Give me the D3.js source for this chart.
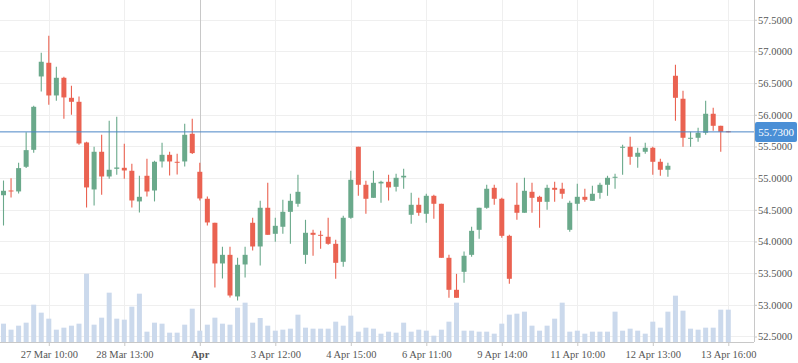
<!DOCTYPE html>
<html>
<head>
<meta charset="utf-8">
<script src="https://cdn.jsdelivr.net/npm/d3@7"></script>
<style>
  body { margin: 0; background: #fff; }
  svg { display: block; }
  svg text { font-family: "Liberation Serif", "DejaVu Serif", serif !important; }
</style>
</head>
<body>
<script>
// hourly bars
const open = [54.73,54.805,54.79,55.179,55.447,56.605,56.821,56.305,56.584,56.268,
  56.205,55.563,54.821,55.416,55.026,55.147,55.163,55.116,54.632,55.037,
  54.805,55.263,55.368,55.258,55.263,55.70,55.10,54.674,54.295,53.653,
  53.789,53.132,53.637,54.295,53.921,54.532,54.121,54.232,54.468,54.595,
  53.789,54.137,54.105,54.074,53.963,53.679,54.374,55.495,54.895,54.689,
  54.916,54.942,54.863,55.011,54.421,54.579,54.437,54.721,54.595,53.742,
  53.237,53.521,53.789,54.184,54.532,54.847,54.674,54.089,54.579,54.453,
  54.784,54.705,54.626,54.847,54.832,54.184,54.595,54.705,54.642,54.768,
  54.895,55.011,55.479,55.495,55.337,55.416,55.479,55.258,55.132,56.616,
  56.253,55.621,55.637,55.716,56.016,55.826,55.74];
const high = [54.962,55.0,55.242,55.726,56.142,56.979,57.247,56.758,56.60,56.458,
  56.289,55.574,55.495,55.684,55.905,55.968,55.542,55.226,55.037,55.305,
  55.274,55.558,55.416,55.384,55.858,55.937,55.242,54.71,54.295,53.916,
  53.916,53.742,53.916,54.374,54.642,54.926,54.374,54.658,54.753,55.053,
  54.342,54.184,54.168,54.374,54.026,54.405,55.116,55.495,54.958,55.116,
  54.958,55.053,55.068,55.147,54.768,54.689,54.753,54.737,54.595,53.789,
  53.489,53.842,54.232,54.532,54.895,54.895,54.689,54.105,54.926,55.005,
  54.926,54.721,54.895,54.942,54.926,54.642,54.911,54.832,54.879,54.926,
  55.037,55.068,55.526,55.653,55.479,55.558,55.495,55.305,55.242,56.789,
  56.379,55.732,55.795,56.221,56.111,55.826,55.745];
const low = [54.252,54.695,54.758,55.158,55.40,56.368,56.158,56.221,55.937,56.0,
  55.526,54.537,54.568,54.737,54.99,55.053,54.99,54.537,54.458,54.711,
  54.632,55.168,55.042,55.058,55.184,55.379,54.647,54.253,53.274,53.416,
  53.116,53.068,53.432,53.858,53.621,54.105,53.995,54.121,53.963,54.547,
  53.647,53.774,53.884,53.947,53.411,53.60,54.358,54.721,54.437,54.689,
  54.611,54.647,54.789,54.832,54.279,54.405,54.295,54.358,53.742,53.111,
  53.111,53.347,53.758,54.042,54.516,54.579,54.058,53.332,54.342,54.453,
  54.453,54.216,54.50,54.626,54.674,54.153,54.484,54.626,54.642,54.674,
  54.721,54.832,55.053,55.211,55.163,55.384,55.053,55.037,55.021,55.905,
  55.495,55.495,55.574,55.684,55.747,55.416,55.725];
const close = [54.80,54.79,55.158,55.442,56.126,56.837,56.305,56.584,56.274,56.205,
  55.547,54.853,55.416,55.026,55.132,55.168,55.121,54.647,54.705,54.789,
  55.258,55.368,55.263,55.247,55.684,55.395,54.679,54.30,53.653,53.789,
  53.147,53.632,53.789,53.921,54.532,54.105,54.247,54.468,54.642,54.784,
  54.137,54.105,54.09,53.963,53.663,54.374,54.974,54.895,54.674,54.926,
  54.942,54.853,55.005,55.037,54.579,54.453,54.721,54.595,53.742,53.237,
  53.111,53.774,54.168,54.532,54.832,54.674,54.089,53.411,54.453,54.80,
  54.689,54.626,54.847,54.816,54.753,54.611,54.705,54.658,54.753,54.895,
  55.005,55.021,55.495,55.337,55.40,55.479,55.258,55.132,55.195,56.268,
  55.637,55.637,55.716,56.016,55.826,55.732,55.73];
const volume = [55,37,49,58,112,88,70,37,43,49,
  55,205,52,73,148,70,67,106,145,31,
  58,55,28,28,52,100,34,52,73,55,
  52,103,118,58,72,49,34,37,40,82,
  43,40,40,40,61,49,79,31,43,40,
  25,31,28,58,31,37,34,19,37,61,
  118,34,34,31,31,25,55,82,85,91,
  49,34,49,70,118,31,34,25,31,31,
  31,91,34,40,34,25,61,43,91,139,
  94,40,37,43,43,97,97];

const tickIdx = [6,16,26,36,46,56,66,76,86,96];
const tickLabels = ["27 Mar 10:00","28 Mar 13:00","Apr","3 Apr 12:00","4 Apr 15:00",
  "6 Apr 11:00","9 Apr 14:00","11 Apr 10:00","12 Apr 13:00","13 Apr 16:00"];
const priceTicks = [52.5,53,53.5,54,54.5,55,55.5,56,56.5,57,57.5];
const lastPrice = 55.73;

const width = 798, height = 363;
const plotW = 754, plotH = 342;
const up = "#6aa98b", down = "#ea6251";

const svg = d3.select("body").append("svg")
  .attr("width", width)
  .attr("height", height);

const x = d3.scaleLinear().domain([0, 96]).range([3.5, 728.3]);
const y = d3.scaleLinear().domain([52.413, 57.812]).range([plotH, 0]);
const yVol = d3.scaleLinear().domain([0, 300]).range([plotH, plotH - 100]);

// grid
svg.append("g").selectAll("line")
  .data(priceTicks)
  .enter().append("line")
  .attr("x1", 0).attr("x2", plotW)
  .attr("y1", d => Math.round(y(d)) + 0.5).attr("y2", d => Math.round(y(d)) + 0.5)
  .attr("stroke", "#efefef");

svg.append("g").selectAll("line")
  .data(tickIdx)
  .enter().append("line")
  .attr("x1", d => Math.round(x(d)) + 0.5).attr("x2", d => Math.round(x(d)) + 0.5)
  .attr("y1", 0).attr("y2", plotH)
  .attr("stroke", (d, i) => tickLabels[i] === "Apr" ? "#c8c8c8" : "#efefef");

// volume
svg.append("g").selectAll("rect")
  .data(volume)
  .enter().append("rect")
  .attr("x", (d, i) => x(i) - 2.5)
  .attr("width", 5)
  .attr("y", d => yVol(d))
  .attr("height", d => plotH - yVol(d))
  .attr("fill", "#cbd9ec");

// candles
const candles = svg.append("g").selectAll("g")
  .data(open.map((o, i) => ({ i, o, h: high[i], l: low[i], c: close[i] })))
  .enter().append("g");

candles.append("line")
  .attr("x1", d => x(d.i)).attr("x2", d => x(d.i))
  .attr("y1", d => y(d.h)).attr("y2", d => y(d.l))
  .attr("stroke", d => d.c >= d.o ? up : down)
  .attr("stroke-width", 1.1);

candles.append("rect")
  .attr("x", d => x(d.i) - 2.5)
  .attr("width", 5)
  .attr("y", d => y(Math.max(d.o, d.c)))
  .attr("height", d => Math.max(1, Math.abs(y(d.o) - y(d.c))))
  .attr("fill", d => d.c >= d.o ? up : down);

// last price line
svg.append("line")
  .attr("x1", 0).attr("x2", plotW)
  .attr("y1", y(lastPrice)).attr("y2", y(lastPrice))
  .attr("stroke", "#4a86c6")
  .attr("stroke-width", 1);

// axes
const xAxis = svg.append("g")
  .attr("transform", "translate(0," + plotH + ")")
  .call(d3.axisBottom(x).tickValues(tickIdx).tickSize(4)
    .tickFormat((d, i) => tickLabels[i]));
xAxis.select(".domain").attr("stroke", "#c8c8c8").attr("d", "M0,0.5H" + plotW);
xAxis.selectAll(".tick line").attr("stroke", "#c8c8c8");
xAxis.selectAll("text")
  .attr("fill", "#555").attr("font-size", 10.5).attr("y", 7).attr("dy", "0.9em")
  .attr("font-weight", (d, i) => tickLabels[i] === "Apr" ? "bold" : null);

const yAxis = svg.append("g")
  .attr("transform", "translate(" + plotW + ",0)")
  .call(d3.axisRight(y).tickValues(priceTicks).tickSize(3)
    .tickFormat(d3.format(".4f")));
yAxis.select(".domain").attr("stroke", "#c8c8c8").attr("d", "M0.5,0V" + plotH);
yAxis.selectAll(".tick line").attr("stroke", "#c8c8c8");
yAxis.selectAll("text")
  .attr("fill", "#555").attr("font-size", 10.5).attr("x", 4);

// last price label
const lbl = svg.append("g")
  .attr("transform", "translate(" + (plotW + 1) + "," + y(lastPrice) + ")");
lbl.append("rect")
  .attr("x", 0).attr("y", -10).attr("width", 42).attr("height", 20)
  .attr("rx", 2)
  .attr("fill", "#4a8fd6");
lbl.append("text")
  .attr("x", 21).attr("y", 0).attr("dy", "0.35em")
  .attr("text-anchor", "middle")
  .attr("fill", "#fff").attr("font-size", 11)
  .text(d3.format(".4f")(lastPrice));
</script>
</body>
</html>
